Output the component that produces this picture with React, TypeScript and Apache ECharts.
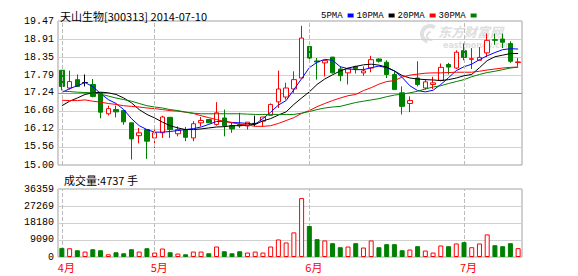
import React, { useEffect, useRef } from 'react';
import * as echarts from 'echarts';

const stockName = '天山生物[300313]';

const dates = [
  '2014-04-15', '2014-04-16', '2014-04-17', '2014-04-18', '2014-04-21', '2014-04-22', '2014-04-23', '2014-04-24', '2014-04-25', '2014-04-28', '2014-04-29', '2014-04-30',
  '2014-05-05', '2014-05-06', '2014-05-07', '2014-05-08', '2014-05-09', '2014-05-12', '2014-05-13', '2014-05-14', '2014-05-15', '2014-05-16',
  '2014-05-19', '2014-05-20', '2014-05-21', '2014-05-22', '2014-05-23', '2014-05-26', '2014-05-27', '2014-05-28', '2014-05-29', '2014-05-30',
  '2014-06-03', '2014-06-04', '2014-06-05', '2014-06-06', '2014-06-09', '2014-06-10', '2014-06-11', '2014-06-12', '2014-06-13', '2014-06-16',
  '2014-06-17', '2014-06-18', '2014-06-19', '2014-06-20', '2014-06-23', '2014-06-24', '2014-06-25', '2014-06-26', '2014-06-27', '2014-06-30',
  '2014-07-01', '2014-07-02', '2014-07-03', '2014-07-04', '2014-07-07', '2014-07-08', '2014-07-09', '2014-07-10',
];

const opens = [
  17.94, 17.39, 17.65, 17.56, 17.5, 17.24, 16.59, 16.72, 16.69, 16.31,
  15.91, 16.1, 15.84, 16.0, 16.48, 15.97, 16.1, 15.84, 16.31, 16.41,
  16.26, 16.46, 16.22, 16.26, 16.21, 16.29, 16.36, 16.54, 16.96, 17.11,
  17.36, 17.7, 18.68, 18.23, 18.17, 18.35, 17.98, 17.86, 18.06, 17.86,
  18.01, 18.29, 18.19, 17.81, 17.24, 16.91, 17.7, 17.39, 17.5, 17.63,
  18.12, 18.01, 18.55, 18.28, 18.25, 18.48, 18.89, 18.91, 18.77, 18.18,
];
const closes = [
  17.44, 17.59, 17.44, 17.56, 17.13, 16.64, 16.75, 16.65, 16.34, 15.81,
  16.0, 15.74, 16.0, 16.49, 16.1, 16.1, 15.86, 16.28, 16.38, 16.31,
  16.62, 16.22, 16.12, 16.22, 16.33, 16.29, 16.49, 16.88, 17.36, 17.39,
  17.65, 18.94, 18.32, 18.2, 18.24, 17.86, 17.77, 17.98, 17.99, 17.92,
  18.27, 18.22, 17.81, 17.34, 16.82, 17.0, 17.5, 17.58, 17.55, 18.03,
  18.04, 18.5, 18.34, 18.3, 18.34, 18.87, 18.87, 18.81, 18.22, 18.2,
];
const lows = [
  17.32, 17.34, 17.44, 17.44, 17.1, 16.45, 16.54, 16.48, 16.25, 15.17,
  15.67, 15.19, 15.53, 15.84, 15.84, 15.89, 15.74, 15.74, 16.2, 16.3,
  16.22, 15.89, 16.0, 16.15, 16.1, 16.2, 16.2, 16.54, 16.77, 17.03,
  17.24, 17.7, 18.17, 17.65, 17.75, 17.84, 17.6, 17.5, 17.84, 17.77,
  17.88, 18.18, 17.7, 17.34, 16.57, 16.64, 17.44, 17.34, 17.36, 17.6,
  17.81, 17.98, 18.25, 17.98, 18.25, 18.35, 18.73, 18.63, 18.17, 18.06,
];
const highs = [
  17.94, 17.93, 17.81, 17.81, 17.67, 17.24, 16.84, 16.84, 16.7, 16.31,
  16.15, 16.1, 16.1, 16.53, 16.48, 16.2, 16.18, 16.36, 16.49, 16.43,
  16.95, 16.72, 16.31, 16.62, 16.33, 16.53, 16.49, 16.91, 17.93, 17.55,
  17.91, 19.32, 18.68, 18.32, 18.24, 18.35, 18.06, 17.98, 18.08, 18.06,
  18.39, 18.31, 18.25, 17.91, 17.44, 17.13, 18.22, 17.67, 17.74, 18.15,
  18.17, 18.56, 18.77, 18.63, 18.66, 19.08, 19.08, 19.08, 18.84, 18.32,
];
const volumes = [
  4855, 4694, 3615, 2913, 4154, 3615, 1457, 2536, 1996, 4154,
  2913, 4694, 2374, 4532, 2536, 1834, 1457, 2913, 2913, 1996,
  5611, 3075, 1996, 3075, 2374, 2913, 2374, 5611, 9387, 7769,
  13164, 31507, 16563, 9549, 8848, 7391, 5233, 5611, 7391, 5071,
  8848, 5233, 6852, 6852, 3615, 3992, 5773, 3453, 2374, 6150,
  5773, 7229, 7931, 5233, 7229, 12085, 6312, 5773, 7391, 4737,
];

const ma5 = [
  17.25, 17.37, 17.46, 17.56, 17.43, 17.22, 17.03, 16.91, 16.72, 16.44,
  16.22, 16.1, 16.02, 16.02, 16.04, 16.07, 16.1, 16.13, 16.18, 16.26,
  16.35, 16.36, 16.32, 16.31, 16.29, 16.27, 16.44, 16.64, 16.86, 17.0,
  17.34, 17.68, 18.02, 18.19, 18.28, 18.25, 18.05, 17.99, 17.96, 17.96,
  18.02, 18.07, 18.02, 17.92, 17.72, 17.46, 17.31, 17.27, 17.32, 17.5,
  17.71, 17.93, 18.05, 18.13, 18.27, 18.39, 18.49, 18.58, 18.61, 18.6,
];
const ma10 = [
  16.84, 16.98, 17.08, 17.19, 17.24, 17.26, 17.24, 17.19, 17.08, 16.93,
  16.72, 16.57, 16.46, 16.33, 16.22, 16.15, 16.1, 16.1, 16.12, 16.15,
  16.18, 16.19, 16.22, 16.22, 16.24, 16.26, 16.37, 16.44, 16.55, 16.65,
  16.88, 17.08, 17.27, 17.5, 17.67, 17.8, 17.92, 18.01, 18.06, 18.11,
  18.13, 18.1, 18.04, 17.92, 17.78, 17.7, 17.67, 17.65, 17.64, 17.62,
  17.65, 17.7, 17.77, 17.81, 18.02, 18.24, 18.36, 18.41, 18.46, 18.46,
];
const ma20 = [
  17.01, 17.0, 17.0, 17.02, 16.98, 16.95, 16.91, 16.88, 16.84, 16.82,
  16.8, 16.77, 16.75, 16.72, 16.69, 16.67, 16.64, 16.6, 16.53, 16.47,
  16.41, 16.35, 16.31, 16.27, 16.24, 16.2, 16.2, 16.22, 16.29, 16.38,
  16.47, 16.6, 16.69, 16.81, 16.91, 17.0, 17.08, 17.15, 17.19, 17.31,
  17.4, 17.51, 17.59, 17.62, 17.73, 17.79, 17.82, 17.85, 17.86, 17.86,
  17.87, 17.88, 17.88, 17.88, 17.91, 17.95, 17.98, 18.01, 18.03, 18.04,
];
const ma30 = [
  17.29, 17.28, 17.26, 17.25, 17.24, 17.2, 17.14, 17.08, 17.03, 16.98,
  16.91, 16.84, 16.8, 16.77, 16.72, 16.69, 16.64, 16.61, 16.59, 16.59,
  16.59, 16.59, 16.59, 16.59, 16.58, 16.57, 16.57, 16.57, 16.57, 16.57,
  16.57, 16.61, 16.66, 16.72, 16.77, 16.8, 16.82, 16.88, 16.94, 16.98,
  17.02, 17.06, 17.12, 17.17, 17.2, 17.24, 17.29, 17.36, 17.42, 17.46,
  17.53, 17.59, 17.65, 17.74, 17.81, 17.87, 17.91, 17.96, 18.01, 18.04,
];

const maNames = ['5PMA', '10PMA', '20PMA', '30PMA'];
const priceTickLabels = ['15.00', '15.56', '16.12', '16.68', '17.24', '17.79', '18.35', '18.91', '19.47'];
const volumeTickLabels = ['0', '9090', '18180', '27269', '36359'];

const maColors = ['#0000ff', '#000000', '#ff0000', '#008000'];
const UP = '#ff0000';
const DOWN = '#008000';
const numFont = "'Liberation Mono', 'DejaVu Sans Mono', monospace";
const cjkFont = "'Noto Sans CJK SC', sans-serif";

function isMonthStart(i: number): boolean {
  return i === 0 || dates[i].slice(5, 7) !== dates[i - 1].slice(5, 7);
}

export default function App() {
  const ref = useRef<HTMLDivElement>(null);
  useEffect(() => {
    if (!ref.current) return;
    const chart = echarts.init(ref.current, undefined, { renderer: 'svg' });
    const priceTicks = priceTickLabels.map((s) => parseFloat(s));
    const volTicks = volumeTickLabels.map((s) => parseFloat(s));
    const maData = [ma5, ma10, ma20, ma30];
    const priceGridColors = priceTicks.map((_, k) => (k === 4 ? '#959595' : '#d0d0d0'));
    const last = dates.length - 1;
    const monthStarts = dates.map((_, i) => i).filter((i) => isMonthStart(i));

    const makeMonthMarkLine = (z?: number) => {
      const m: any = {
        silent: true,
        symbol: 'none',
        label: { show: false },
        lineStyle: { color: '#bcbcbc', type: 'dashed', width: 1 },
        data: monthStarts.map((i) => ({ xAxis: i })),
      };
      if (z !== undefined) m.z = z;
      return m;
    };

    const option: any = {
      animation: false,
      backgroundColor: '#ffffff',
      title: [
        {
          text: `${stockName} ${dates[last]}`,
          left: 55,
          top: 5,
          textStyle: { fontSize: 11, fontWeight: 'normal', color: '#000', fontFamily: cjkFont },
        },
        {
          text: `成交量:${volumes[last]} 手`,
          left: 59,
          top: 169,
          textStyle: { fontSize: 11, fontWeight: 'normal', color: '#000', fontFamily: cjkFont },
        },
      ],
      legend: {
        data: maNames,
        left: 316,
        top: 6,
        align: 'right',
        icon: 'rect',
        itemWidth: 6,
        itemHeight: 4,
        itemGap: 3,
        selectedMode: false,
        textStyle: { fontSize: 9, fontFamily: numFont, color: '#000' },
      },
      graphic: [
        {
          type: 'arc',
          silent: true,
          shape: { cx: 430, cy: 34, r: 8, startAngle: Math.PI * 0.6, endAngle: Math.PI * 1.7 },
          style: { stroke: '#e0e0e0', lineWidth: 4, fill: 'none' },
        },
        {
          type: 'arc',
          silent: true,
          shape: { cx: 431, cy: 36, r: 4, startAngle: Math.PI * 0.4, endAngle: Math.PI * 1.5 },
          style: { stroke: '#e0e0e0', lineWidth: 2, fill: 'none' },
        },
        {
          type: 'text',
          left: 438,
          top: 25,
          silent: true,
          style: { text: '东方财富网', fontSize: 13, fontWeight: 'bold', fontStyle: 'italic', fontFamily: cjkFont, fill: '#dedede' },
        },
        {
          type: 'text',
          left: 443,
          top: 41,
          silent: true,
          style: { text: 'eastmoney.com', fontSize: 8, fontWeight: 'bold', fontFamily: "'DejaVu Sans', sans-serif", fill: '#dedede' },
        },
      ],
      grid: [
        { left: 58, top: 21, width: 464, height: 144, show: true, borderColor: '#a0a0a0', borderWidth: 1 },
        { left: 58, top: 189, width: 464, height: 68, show: true, borderColor: '#a0a0a0', borderWidth: 1 },
      ],
      xAxis: [
        {
          type: 'category',
          gridIndex: 0,
          data: dates,
          boundaryGap: true,
          axisLine: { show: false },
          axisTick: { show: false },
          axisLabel: { show: false },
          splitLine: { show: false },
        },
        {
          type: 'category',
          gridIndex: 1,
          data: dates,
          boundaryGap: true,
          axisLine: { show: false },
          axisTick: { show: false },
          axisLabel: {
            show: true,
            interval: (i: number) => isMonthStart(i),
            formatter: (v: string) => `${parseInt(v.slice(5, 7), 10)}月`,
            color: '#ff0000',
            fontSize: 11,
            fontFamily: cjkFont,
            margin: 4,
            align: 'left',
            padding: [0, 0, 0, -4],
          },
          splitLine: { show: false },
        },
      ],
      yAxis: [
        {
          type: 'value',
          gridIndex: 0,
          min: priceTicks[0],
          max: priceTicks[priceTicks.length - 1],
          axisLine: { show: false },
          axisTick: { show: false, customValues: priceTicks },
          axisLabel: {
            customValues: priceTicks,
            formatter: (v: number) => v.toFixed(2),
            fontSize: 10,
            fontFamily: numFont,
            color: '#000',
            margin: 4,
          },
          splitLine: { show: true, lineStyle: { color: priceGridColors, width: 1 } },
        },
        {
          type: 'value',
          gridIndex: 1,
          min: volTicks[0],
          max: volTicks[volTicks.length - 1],
          axisLine: { show: false },
          axisTick: { show: false, customValues: volTicks },
          axisLabel: {
            customValues: volTicks,
            formatter: (v: number) => String(Math.round(v)),
            fontSize: 10,
            fontFamily: numFont,
            color: '#000',
            margin: 4,
          },
          splitLine: { show: true, lineStyle: { color: '#d0d0d0', width: 1 } },
        },
      ],
      series: [
        {
          type: 'candlestick',
          name: '日K',
          xAxisIndex: 0,
          yAxisIndex: 0,
          barWidth: 5,
          itemStyle: {
            color: '#ffffff',
            color0: DOWN,
            borderColor: UP,
            borderColor0: DOWN,
            borderColorDoji: '#000000',
            borderWidth: 1,
          },
          markLine: makeMonthMarkLine(),
          data: dates.map((_, i) => {
            const v = [opens[i], closes[i], lows[i], highs[i]];
            if (opens[i] === closes[i]) {
              return {
                value: v,
                itemStyle: { color: '#000', color0: '#000', borderColor: '#000', borderColor0: '#000', borderColorDoji: '#000' },
              };
            }
            return v;
          }),
        },
        ...maNames.map((name, k) => ({
          type: 'line',
          name,
          xAxisIndex: 0,
          yAxisIndex: 0,
          data: maData[k],
          symbol: 'none',
          showSymbol: false,
          color: maColors[k],
          lineStyle: { width: 1, color: maColors[k] },
          z: 3,
        })),
        {
          type: 'bar',
          name: '成交量',
          xAxisIndex: 1,
          yAxisIndex: 1,
          barWidth: 5,
          z: 4,
          markLine: makeMonthMarkLine(1),
          data: volumes.map((v, i) => ({
            value: v,
            itemStyle:
              closes[i] >= opens[i]
                ? { color: '#ffffff', borderColor: UP, borderWidth: 1 }
                : { color: DOWN, borderColor: DOWN, borderWidth: 1 },
          })),
        },
      ],
    };
    chart.setOption(option);
    return () => chart.dispose();
  }, []);
  return (
    <div
      ref={ref}
      style={{ position: 'absolute', left: 0, top: 0, width: 578, height: 276, background: '#fff' }}
    />
  );
}
